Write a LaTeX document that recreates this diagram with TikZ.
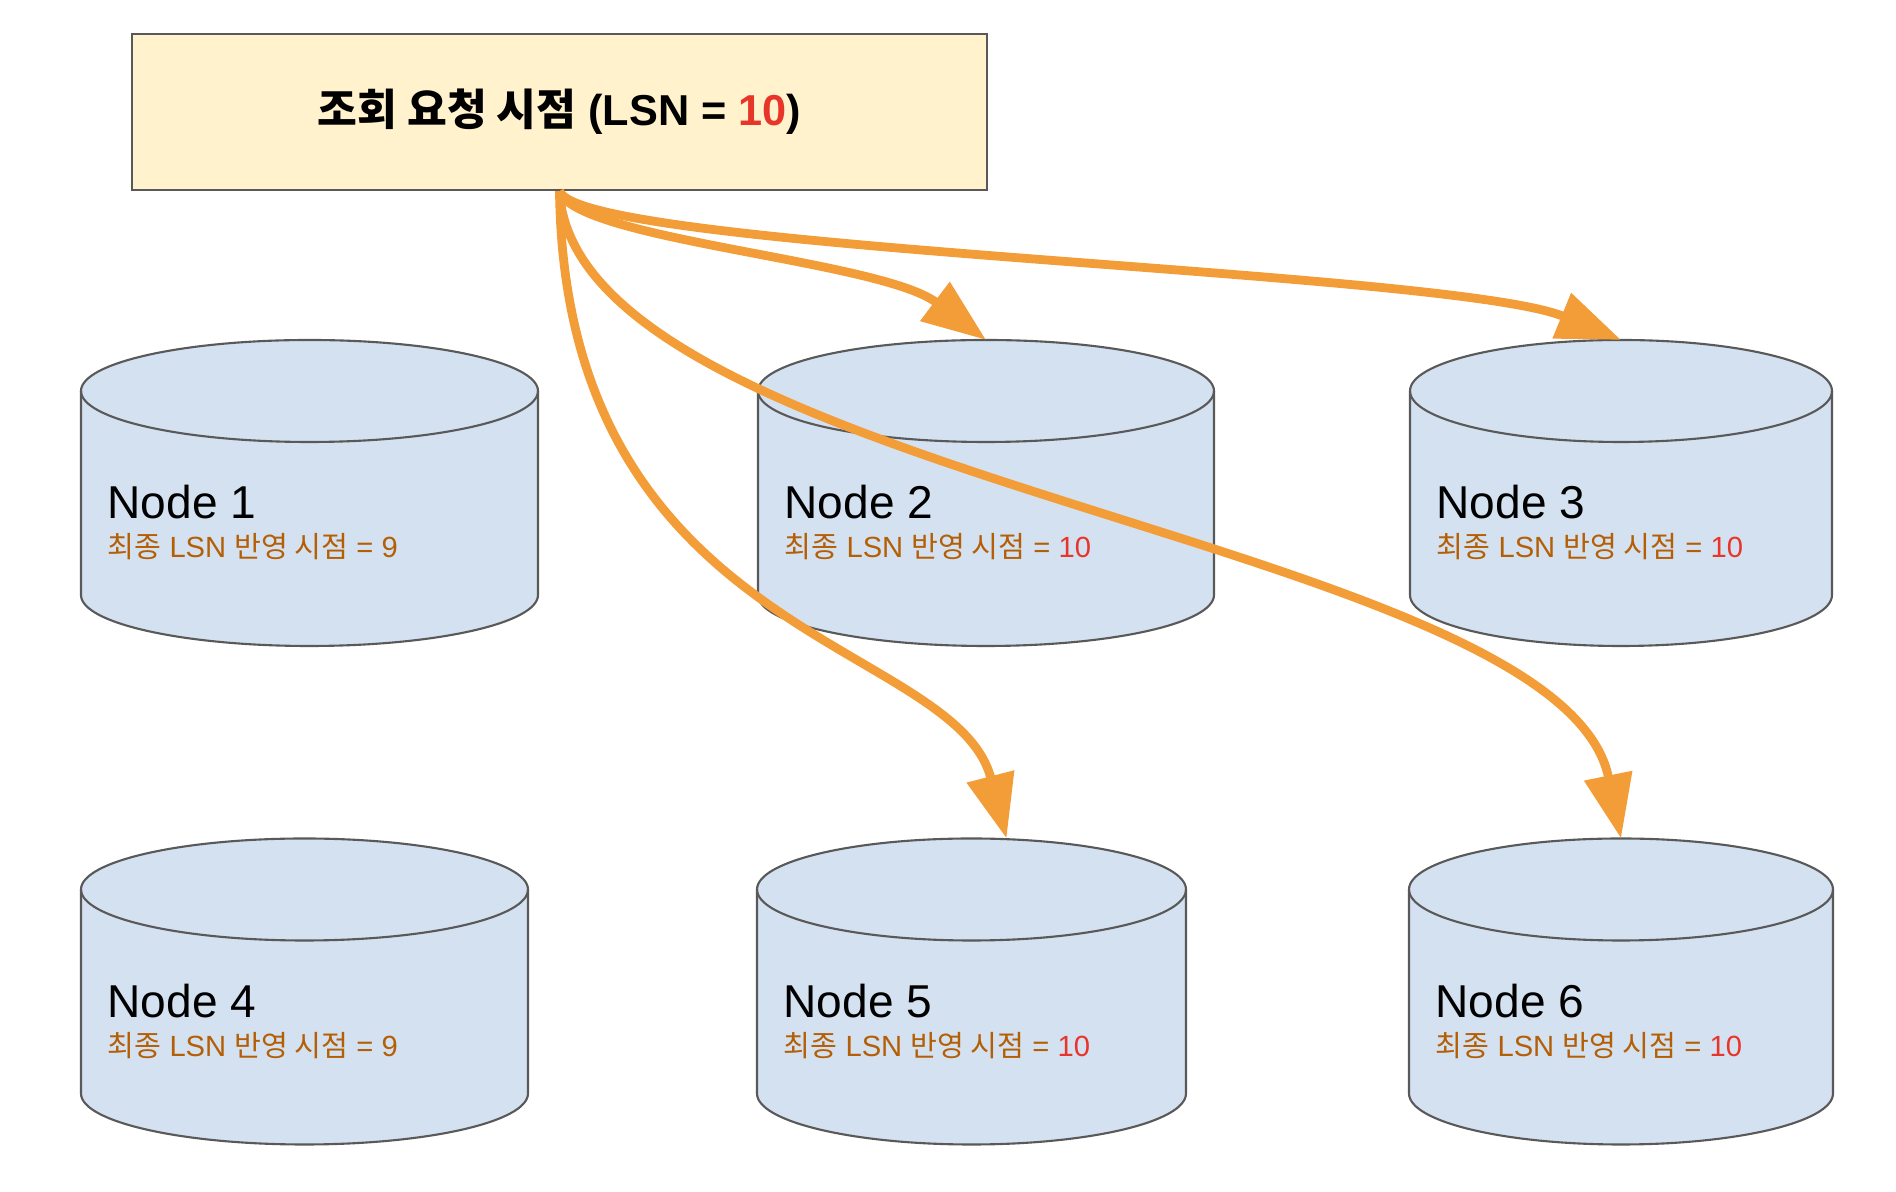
\documentclass[tikz,border=0pt]{standalone}
\usepackage{fontspec}
\setmainfont{Liberation Sans}
\newfontfamily\kr{Noto Sans CJK KR}
\usepackage{xcolor}
\usepackage{tikz}
\usetikzlibrary{arrows.meta}
\definecolor{EDGE}{HTML}{595959}
\definecolor{PAPER}{HTML}{FFF2CC}
\definecolor{DISK}{HTML}{D4E1F0}
\definecolor{FLOW}{HTML}{F29D38}
\definecolor{LSN}{HTML}{B45F06}
\definecolor{HOT}{HTML}{E8352A}

\begin{document}
\begin{tikzpicture}[
  x=0.01cm, y=-0.01cm,
  req/.style={draw=EDGE, fill=PAPER, line width=0.6pt, minimum width=8.55cm, minimum height=1.56cm, inner sep=0pt, font=\fontsize{12.3}{14}\selectfont\bfseries},
  dbbox/.style={rectangle, inner sep=0pt, outer sep=0pt, minimum height=3.06cm},
  disk/.style={draw=EDGE, line width=0.6pt},
  dbname/.style={anchor=base west, inner sep=0pt, font=\fontsize{13.1}{15}\selectfont},
  dbnote/.style={anchor=base west, inner sep=0pt, text=LSN, font=\fontsize{8.3}{10}\selectfont},
  flow/.style={draw=FLOW, line width=2.5pt, -{Triangle[length=0.64cm, width=0.47cm]}},
]
\useasboundingbox (0,0) rectangle (1896,1192);

% ===== read request =====
\node[req] (req) at (559.5,112) {{\kr 조회 요청 시점} (LSN = \textcolor{HOT}{10})};

% ===== storage nodes =====
\foreach \i/\cx/\cy/\w/\lsn/\lc in {1/309.5/493/457/9/LSN, 2/986/493/456/10/HOT, 3/1621/493/422/10/HOT,
                                  4/304.5/991.5/447/9/LSN, 5/971.5/991.5/429/10/HOT, 6/1621/991.5/424/10/HOT} {
  \pgfmathsetmacro{\r}{\w/2}
  \node[dbbox, minimum width=\w*0.01cm] (n\i) at (\cx,\cy) {};
  \filldraw[disk, fill=DISK] ({\cx-\r},{\cy-102}) -- ({\cx-\r},{\cy+102})
    arc[start angle=180, end angle=0, x radius=\r, y radius=51]
    -- ({\cx+\r},{\cy-102})
    arc[start angle=0, end angle=-180, x radius=\r, y radius=51] -- cycle;
  \draw[disk] ({\cx-\r},{\cy-102}) arc[start angle=180, end angle=0, x radius=\r, y radius=51];
  \node[dbname] (t\i) at ({\cx-\r+26},{\cy+26}) {Node \i};
  \node[dbnote] (s\i) at ({\cx-\r+26},{\cy+65}) {{\kr 최종} LSN {\kr 반영 시점} = \textcolor{\lc}{\lsn}};
}

% ===== reads =====
\draw[flow] (req.south) .. controls (575,240) and (880,260) .. (n2.north);
\draw[flow] (req.south) .. controls (580,250) and (1450,270) .. (n3.north);
\draw[flow] (req.south) .. controls (565,640) and (955,640) .. ([shift={(35,0)}]n5.north);
\draw[flow] (req.south) .. controls (575,480) and (1560,540) .. (n6.north);

\end{tikzpicture}
\end{document}
